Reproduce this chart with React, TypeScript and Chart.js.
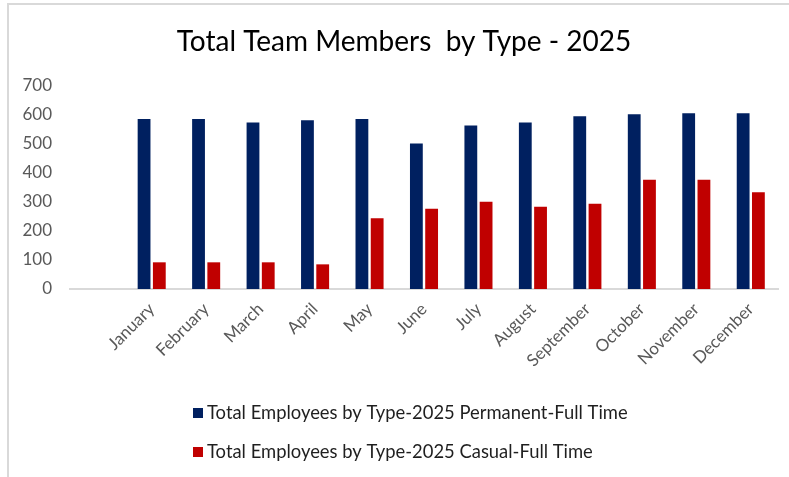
import React, { useEffect, useRef } from "react";
import { Chart, registerables } from "chart.js";

Chart.register(...registerables);

const categories = ["", "January", "February", "March", "April", "May", "June", "July", "August", "September", "October", "November", "December"];
const permanent = [null, 586, 586, 574, 582, 586, 502, 564, 574, 596, 603, 606, 606];
const casual = [null, 92, 92, 92, 85, 244, 277, 301, 284, 294, 377, 377, 334];
const seriesNames = ["Total Employees by Type-2025 Permanent-Full Time", "Total Employees by Type-2025 Casual-Full Time"];
const seriesColors = ["#002060", "#C00000"];
const titleText = "Total Team Members  by Type - 2025";

const FONT = "Lato, 'Open Sans', sans-serif";

const decorPlugin = {
  id: "decor",
  afterDraw(chart: any) {
    const ctx = chart.ctx;
    ctx.save();
    // title
    ctx.font = `28px ${FONT}`;
    ctx.fillStyle = "#000000";
    ctx.textAlign = "center";
    ctx.textBaseline = "middle";
    ctx.fillText(titleText, 395, 37);
    // legend
    ctx.font = `18.4px ${FONT}`;
    ctx.textAlign = "left";
    const rows = [408, 447];
    chart.data.datasets.forEach((ds: any, i: number) => {
      const y = rows[i];
      ctx.fillStyle = ds.backgroundColor;
      ctx.fillRect(184, y - 5, 10, 10);
      ctx.fillStyle = "#1f1f1f";
      ctx.fillText(ds.label, 198, y);
    });
    ctx.restore();
  },
};

export default function App() {
  const ref = useRef<HTMLCanvasElement>(null);
  useEffect(() => {
    if (!ref.current) return;
    const chart = new Chart(ref.current, {
      type: "bar",
      data: {
        labels: categories,
        datasets: [
          { label: seriesNames[0], data: permanent as any, backgroundColor: seriesColors[0], categoryPercentage: 0.56, barPercentage: 0.84 },
          { label: seriesNames[1], data: casual as any, backgroundColor: seriesColors[1], categoryPercentage: 0.56, barPercentage: 0.84 },
        ],
      },
      options: {
        animation: false,
        responsive: false,
        maintainAspectRatio: false,
        layout: { padding: { left: 0, right: 11, top: 81, bottom: 108 } },
        plugins: {
          legend: { display: false },
          tooltip: { enabled: false },
          title: { display: false },
        },
        scales: {
          x: {
            grid: { display: false, drawTicks: false },
            border: { display: true, color: "#d9d9d9", width: 2 },
            ticks: {
              color: "#595959",
              font: { family: FONT, size: 17 },
              maxRotation: 45,
              minRotation: 45,
              padding: 10,
              autoSkip: false,
            },
            afterFit(scale: any) {
              scale.height = 80;
            },
          },
          y: {
            min: 0,
            max: 700,
            grid: { display: false, drawTicks: false },
            border: { display: false },
            ticks: {
              stepSize: 100,
              color: "#595959",
              font: { family: FONT, size: 17 },
              padding: 18,
            },
            afterFit(scale: any) {
              scale.width = 61;
            },
          },
        },
      },
      plugins: [decorPlugin],
    });
    return () => chart.destroy();
  }, []);
  return (
    <div style={{ position: "absolute", left: 0, top: 0, width: 789, height: 477, background: "#fff", overflow: "hidden" }}>
      <div style={{ position: "absolute", left: 7, top: 3, right: 0, bottom: 0, borderTop: "2px solid #d9d9d9", borderLeft: "2px solid #d9d9d9" }} />
      <canvas ref={ref} width={780} height={472} style={{ position: "absolute", left: 9, top: 5, width: 780, height: 472 }} />
    </div>
  );
}
